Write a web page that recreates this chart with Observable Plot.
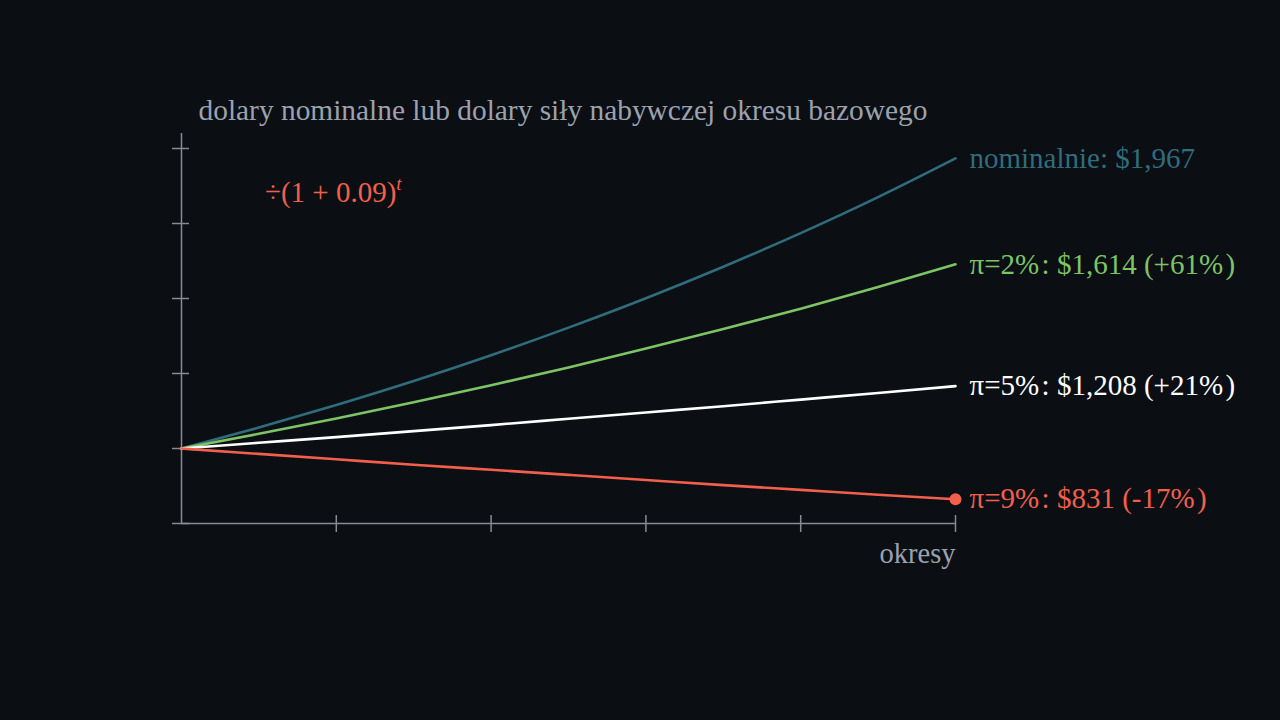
<!DOCTYPE html>
<html><head><meta charset="utf-8">
<script src="https://cdn.jsdelivr.net/npm/d3@7"></script>
<script src="https://cdn.jsdelivr.net/npm/@observablehq/plot@0.6"></script>
<style>
html,body{margin:0;padding:0;background:#0b0e13;}
#chart{width:1280px;height:720px;overflow:hidden;}
</style></head>
<body><div id="chart"></div>
<script>
const periods = [0,1,2,3,4,5,6,7,8,9,10];
const nominal = [1000,1070,1145,1225,1311,1403,1501,1606,1718,1838,1967];
const pi2 = [1000,1049,1100,1154,1211,1270,1333,1398,1466,1538,1614];
const pi5 = [1000,1019,1038,1058,1078,1099,1120,1141,1163,1185,1208];
const pi9 = [1000,982,964,946,929,912,895,878,862,846,831];
const seriesNames = ["nominal","pi2","pi5","pi9"];
const seriesLabels = ["nominalnie: $1,967","π=2%\u200A: $1,614 (+61%\u200A)","π=5%\u200A: $1,208 (+21%\u200A)","π=9%\u200A: $831 (-17%\u200A)"];
const seriesColors = ["#2f6d7c","#7dc465","#ffffff","#f2604c"];
const yTicks = [750,1000,1250,1500,1750,2000];
const xTicks = [2,4,6,8,10];
const titleText = "dolary nominalne lub dolary siły nabywczej okresu bazowego";
const xLabel = "okresy";

const values = [nominal, pi2, pi5, pi9];
const rows = [];
seriesNames.forEach((s,i)=>periods.forEach((t,j)=>rows.push({series:s, t, v:values[i][j]})));
const ends = seriesNames.map((s,i)=>({series:s, t:periods[periods.length-1], v:values[i][values[i].length-1], label:seriesLabels[i], color:seriesColors[i]}));

const axisColor = "#868b95";
const font = "'Liberation Serif', 'DejaVu Serif', serif";

const plot = Plot.plot({
  width:1280, height:720,
  marginLeft:181, marginRight:325, marginTop:133, marginBottom:197,
  style:{background:"#0b0e13", fontFamily:font, overflow:"visible"},
  x:{domain:[0,10], axis:null},
  y:{domain:[750,2050], axis:null},
  color:{domain:seriesNames, range:seriesColors},
  marks:[
    Plot.ruleX([0], {y1:750, y2:2050, stroke:axisColor, strokeWidth:1.5}),
    Plot.axisY(yTicks, {anchor:"left", tickSize:9, tickFormat:()=>"", stroke:axisColor, strokeWidth:1.5, label:null}),
    Plot.axisY(yTicks, {anchor:"left", tickSize:-8, tickFormat:()=>"", stroke:axisColor, strokeWidth:1.5, label:null}),
    Plot.ruleY([750], {x1:0, x2:10, stroke:axisColor, strokeWidth:1.5}),
    Plot.axisX(xTicks, {anchor:"bottom", tickSize:9, tickFormat:()=>"", stroke:axisColor, strokeWidth:1.5, label:null}),
    Plot.axisX(xTicks, {anchor:"bottom", tickSize:-8, tickFormat:()=>"", stroke:axisColor, strokeWidth:1.5, label:null}),
    Plot.line(rows, {x:"t", y:"v", z:"series", stroke:"series", strokeWidth:2.6, curve:"monotone-x"}),
    Plot.dot([ends[3]], {x:"t", y:"v", r:6, fill:seriesColors[3]}),
    Plot.text(ends, {x:"t", y:"v", text:"label", fill:"color", dx:14, textAnchor:"start", lineAnchor:"middle", fontSize:29, fontFamily:font}),
    Plot.text([titleText], {frameAnchor:"top-left", dx:17, dy:-14, fill:"#9ba2ae", fontSize:29.4, fontFamily:font, textAnchor:"start", lineAnchor:"bottom"}),
    Plot.text([xLabel], {frameAnchor:"bottom-right", dy:19, fill:"#9ba2ae", fontSize:28.5, fontFamily:font, textAnchor:"end", lineAnchor:"top"}),
  ]
});

const svg = d3.select(plot);
const ann = svg.append("text")
  .attr("x", 265).attr("y", 202)
  .attr("text-anchor", "start")
  .attr("fill", seriesColors[3])
  .attr("font-family", font)
  .attr("font-size", 29);
ann.append("tspan").text("÷(1 + 0.09)");
ann.append("tspan").attr("dy", -12).attr("font-size", 19).attr("font-style","italic").text("t");

document.getElementById("chart").appendChild(plot);
</script>
</body></html>
